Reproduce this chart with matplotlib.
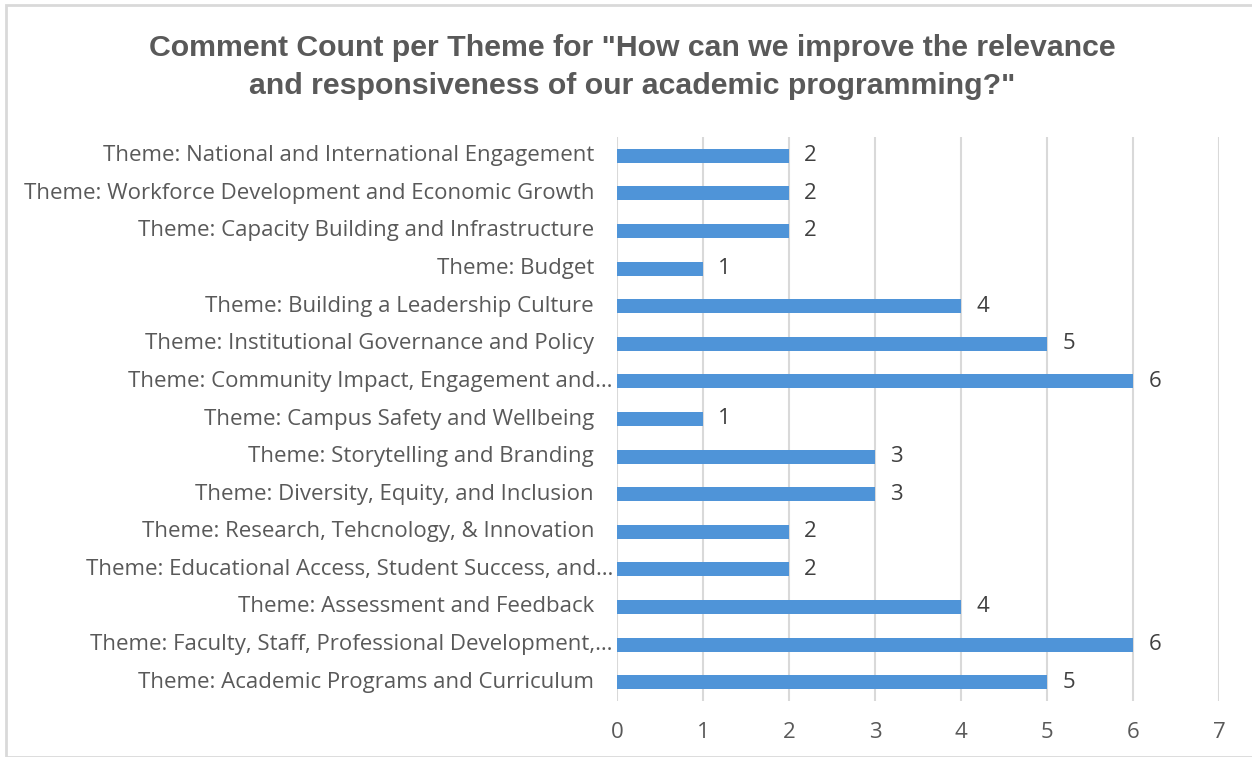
import matplotlib
matplotlib.use("Agg")
import matplotlib.pyplot as plt
import matplotlib.transforms as mtransforms
from matplotlib.patches import Rectangle

# themes listed bottom to top, with their comment counts
themes = [
    "Theme: Academic Programs and Curriculum",
    "Theme: Faculty, Staff, Professional Development,…",
    "Theme: Assessment and Feedback",
    "Theme: Educational Access, Student Success, and…",
    "Theme: Research, Tehcnology, & Innovation",
    "Theme: Diversity, Equity, and Inclusion",
    "Theme: Storytelling and Branding",
    "Theme: Campus Safety and Wellbeing",
    "Theme: Community Impact, Engagement and…",
    "Theme: Institutional Governance and Policy",
    "Theme: Building a Leadership Culture",
    "Theme: Budget",
    "Theme: Capacity Building and Infrastructure",
    "Theme: Workforce Development and Economic Growth",
    "Theme: National and International Engagement",
]
counts = [5, 6, 4, 2, 2, 3, 3, 1, 6, 5, 4, 1, 2, 2, 2]
x_ticks = [0, 1, 2, 3, 4, 5, 6, 7]

title = ('Comment Count per Theme for "How can we improve the relevance\n'
         'and responsiveness of our academic programming?"')

bar_color = "#4F94D8"
grid_color = "#D9D9D9"
text_color = "#595959"
font = "Open Sans"
fsize = 16

W, H = 1252, 757
fig = plt.figure(figsize=(W / 100, H / 100), dpi=100)

# light frame around the chart area
fig.patches.append(Rectangle((6 / W, 0), 1, 1 - 5 / H, transform=fig.transFigure,
                             fill=False, edgecolor=grid_color, linewidth=2))

ax = fig.add_axes([617 / W, 1 - 701 / H, (1219 - 617) / W, (701 - 137) / H])

ypos = list(range(len(themes)))
ax.barh(ypos, counts, height=0.37, color=bar_color, zorder=3)

for y, c in zip(ypos, counts):
    ax.annotate(str(c), (c, y), xytext=(11, 0), textcoords="offset points",
                va="center", ha="left", fontsize=fsize, color="#404040",
                family=font)

# category labels, right aligned to the left of the plot
trans = mtransforms.blended_transform_factory(ax.transAxes, ax.transData)
for y, label in zip(ypos, themes):
    gap = 4 if label.endswith("…") else 23
    ax.text(-gap / (1219 - 617), y, label, transform=trans, ha="right",
            va="center", fontsize=fsize, color=text_color, family=font)

ax.set_xlim(0, 7)
ax.set_ylim(-0.5, len(themes) - 0.5)
ax.set_xticks(x_ticks)
ax.set_xticklabels([str(t) for t in x_ticks], fontsize=fsize, color=text_color,
                   family=font)
ax.set_yticks([])
ax.tick_params(axis="x", length=0, pad=15)
ax.grid(axis="x", color=grid_color, linewidth=1.5, zorder=0)
for s in ax.spines.values():
    s.set_visible(False)

fig.text(632 / W, 1 - 67 / H, title, ha="center", va="center", fontsize=21.8,
         fontweight="bold", color=text_color, family="Liberation Sans",
         linespacing=1.45)

fig.savefig("out.png", dpi=100)
